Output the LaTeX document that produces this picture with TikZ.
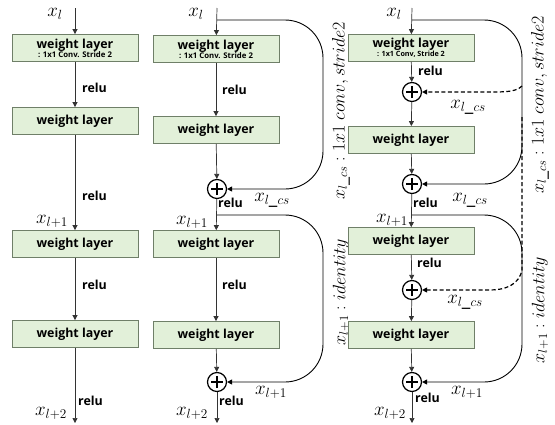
\RequirePackage{fix-cm}
\documentclass[tikz,border=0pt]{standalone}
\usepackage{fontspec}
\setmainfont{Open Sans}
\usetikzlibrary{arrows.meta}
\definecolor{boxfill}{HTML}{E2F0D9}
\definecolor{boxline}{HTML}{6F7F68}
\newcommand{\smalltxt}{\bfseries\fontsize{7.8}{8}\selectfont}
\newcommand{\smallertxt}{\bfseries\fontsize{7.2}{8}\selectfont}
\begin{document}
\begin{tikzpicture}[x=1pt,y=-1pt,
  wl/.style={draw=boxline, fill=boxfill, line width=0.8pt, minimum width=126pt, minimum height=27pt, inner sep=0pt, align=center, font=\bfseries\fontsize{12.4}{12}\selectfont},
  pl/.style={circle, draw, line width=1.2pt, minimum size=19pt, inner sep=0pt,
    path picture={\draw[line width=1.8pt] (path picture bounding box.center) ++(-6pt,0) -- ++(12pt,0) (path picture bounding box.center) ++(0,-6pt) -- ++(0,12pt);}},
  ar/.style={-{Triangle[length=5pt,width=5pt]}, line width=0.7pt, draw=black!80},
  sc/.style={-{Triangle[length=5pt,width=5pt]}, line width=0.9pt, rounded corners=38pt},
  ds/.style={-{Triangle[length=5pt,width=5pt]}, line width=1.2pt, dash pattern=on 4pt off 2.5pt},
  relu/.style={anchor=west, inner sep=0pt, font=\bfseries\fontsize{12.4}{12}\selectfont},
  mx/.style={inner sep=0pt, font=\fontsize{19}{21}\selectfont},
  rot/.style={inner sep=0pt, rotate=90, font=\fontsize{18}{20}\selectfont}
]
\useasboundingbox (0,0) rectangle (555,424);
% column 1
\coordinate (c1in) at (75,8);
\coordinate (c1out) at (75,423);
\node[wl] (c1b1) at (75,48) {weight layer\\[-3pt]{\smalltxt : 1x1 Conv. Stride 2}};
\node[wl] (c1b2) at (75,121) {weight layer};
\node[wl] (c1b3) at (75,244) {weight layer};
\node[wl] (c1b4) at (75,334) {weight layer};
\draw[ar] (c1in) -- (c1b1);
\draw[ar] (c1b1) -- (c1b2);
\draw[ar] (c1b2) -- (c1b3);
\draw[ar] (c1b3) -- (c1b4);
\draw[ar] (c1b4) -- (c1out);
\node[mx] (c1xl) at (55,14) {$x_l$};
\node[mx] (c1x1) at (52,221) {$x_{l+1}$};
\node[mx] (c1x2) at (51,413) {$x_{l+2}$};
\node[relu] (c1r1) at (82,88) {relu};
\node[relu] (c1r2) at (82,196) {relu};
\node[relu] (c1r3) at (82,285) {relu};
\node[relu] (c1r4) at (78,401) {relu};
% column 2
\coordinate (c2in) at (217,8);
\coordinate (c2br1) at (217,20);
\coordinate (c2br2) at (217,215);
\coordinate (c2out) at (217,423);
\node[wl] (c2b1) at (216,49) {weight layer\\[-3pt]{\smalltxt : 1x1 Conv. Stride 2}};
\node[wl] (c2b2) at (216,130) {weight layer};
\node[pl] (c2p1) at (217,189) {};
\node[wl] (c2b3) at (216,244) {weight layer};
\node[wl] (c2b4) at (216,335) {weight layer};
\node[pl] (c2p2) at (217,382) {};
\draw[ar] (c2in) -- (c2b1);
\draw[ar] (c2b1) -- (c2b2);
\draw[ar] (c2b2) -- (c2p1);
\draw[ar] (c2p1) -- (c2b3);
\draw[ar] (c2b3) -- (c2b4);
\draw[ar] (c2b4) -- (c2p2);
\draw[ar] (c2p2) -- (c2out);
\draw[sc] (c2br1) -- (323,20) -- (323,189) -- (c2p1);
\draw[sc] (c2br2) -- (323,215) -- (323,382) -- (c2p2);
\node[mx] (c2xl) at (196,14) {$x_l$};
\node[mx] (c2x1) at (192,222) {$x_{l+1}$};
\node[mx] (c2x2) at (192,413) {$x_{l+2}$};
\node[mx] (c2cs) at (272,200) {$x_{l\_cs}$};
\node[mx] (c2id) at (271,392) {$x_{l+1}$};
\node[relu] (c2r1) at (222,90) {relu};
\node[relu] (c2r2) at (218,203) {relu};
\node[relu] (c2r3) at (222,285) {relu};
\node[relu] (c2r4) at (219,401) {relu};
\node[rot] (c2lab1) at (341,111) {$x_{l\_cs} : 1x1\ conv, stride2$};
\node[rot] (c2lab2) at (341,292) {$x_{l+1} : identity$};
% column 3
\coordinate (c3in) at (412,8);
\coordinate (c3br1) at (412,20);
\coordinate (c3br2) at (412,215);
\coordinate (c3out) at (412,423);
\coordinate (c3d1) at (522,86);
\coordinate (c3d2) at (522,117);
\node[wl] (c3b1) at (411,48) {weight layer\\[-3pt]{\smallertxt : 1x1 Conv, Stride 2}};
\node[pl] (c3p1) at (412,92) {};
\node[wl] (c3b2) at (411,140) {weight layer};
\node[pl] (c3p2) at (412,184) {};
\node[wl] (c3b3) at (411,241) {weight layer};
\node[pl] (c3p3) at (412,290) {};
\node[wl] (c3b4) at (411,335) {weight layer};
\node[pl] (c3p4) at (412,382) {};
\draw[ar] (c3in) -- (c3b1);
\draw[ar] (c3b1) -- (c3p1);
\draw[ar] (c3p1) -- (c3b2);
\draw[ar] (c3b2) -- (c3p2);
\draw[ar] (c3p2) -- (c3b3);
\draw[ar] (c3b3) -- (c3p3);
\draw[ar] (c3p3) -- (c3b4);
\draw[ar] (c3b4) -- (c3p4);
\draw[ar] (c3p4) -- (c3out);
\draw[sc] (c3br1) -- (522,20) -- (522,184) -- (c3p2);
\draw[sc] (c3br2) -- (522,215) -- (522,382) -- (c3p4);
\draw[ds] (c3d1) .. controls (516,92) and (505,92) .. (490,92) -- (c3p1);
\draw[ds] (c3d2) -- (522,270) .. controls (519,285) and (505,290) .. (490,290) -- (c3p3);
\node[mx] (c3xl) at (394,14) {$x_l$};
\node[mx] (c3x1) at (392,220) {$x_{l+1}$};
\node[mx] (c3x2) at (390,413) {$x_{l+2}$};
\node[mx] (c3cs1) at (468,107) {$x_{l\_cs}$};
\node[mx] (c3cs2) at (470,200) {$x_{l\_cs}$};
\node[mx] (c3cs3) at (465,302) {$x_{l\_cs}$};
\node[mx] (c3id) at (467,392) {$x_{l+1}$};
\node[relu] (c3r1) at (418,71) {relu};
\node[relu] (c3r2) at (413,203) {relu};
\node[relu] (c3r3) at (417,263) {relu};
\node[relu] (c3r4) at (415,398) {relu};
\node[rot] (c3lab1) at (540,105) {$x_{l\_cs} : 1x1\ conv, stride2$};
\node[rot] (c3lab2) at (540,310) {$x_{l+1} : identity$};
\end{tikzpicture}
\end{document}
